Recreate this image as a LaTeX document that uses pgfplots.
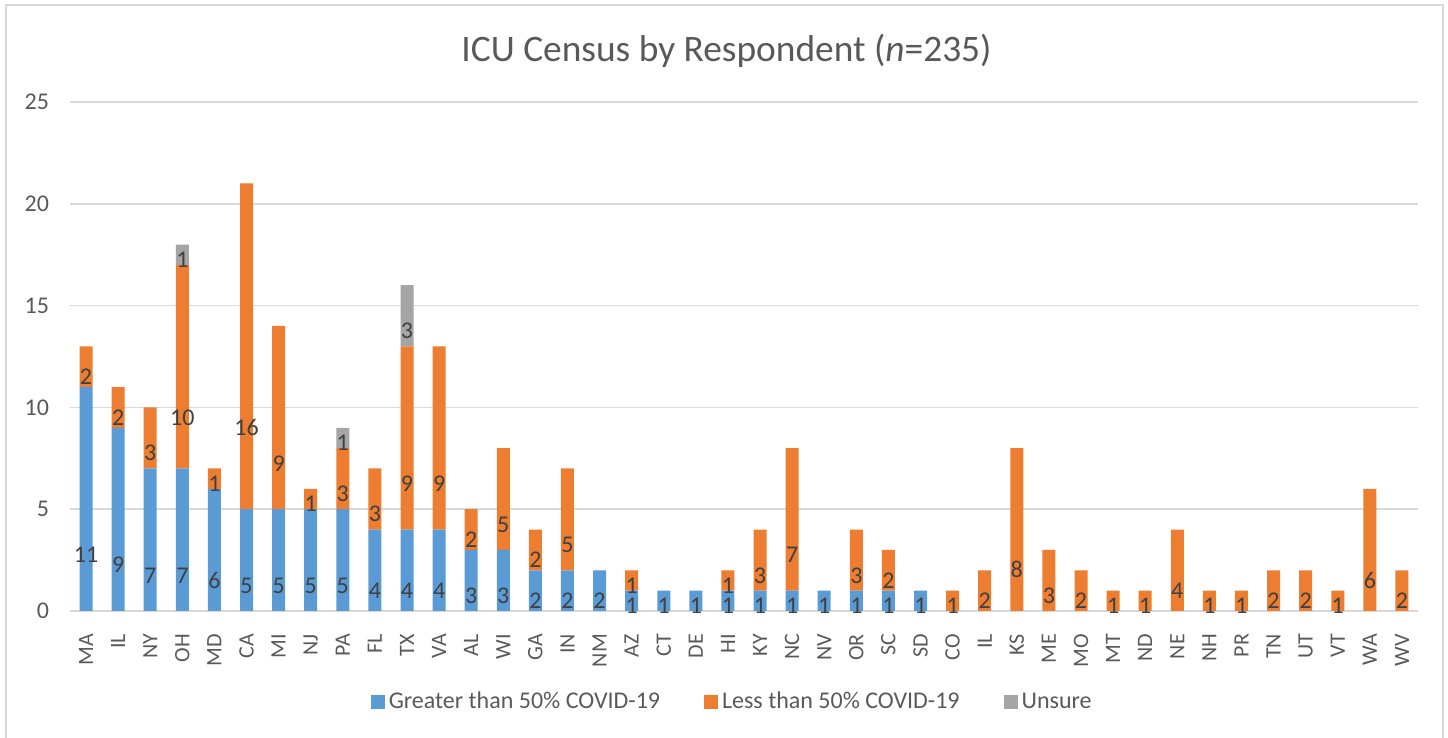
\documentclass[border=0pt]{standalone}
\usepackage{pgfplots}
\pgfplotsset{compat=1.18}
\usepackage{pgfplotstable}
\usepackage{fontspec}
\setmainfont{Carlito}
\definecolor{cblue}{HTML}{5B9BD5}
\definecolor{corange}{HTML}{ED7D31}
\definecolor{cgray}{HTML}{A5A5A5}
\definecolor{gridc}{HTML}{D9D9D9}
\definecolor{txt}{HTML}{595959}
\definecolor{labc}{HTML}{404040}
\pgfplotstableread{
x g l u
0 11 2 0
1 9 2 0
2 7 3 0
3 7 10 1
4 6 1 0
5 5 16 0
6 5 9 0
7 5 1 0
8 5 3 1
9 4 3 0
10 4 9 3
11 4 9 0
12 3 2 0
13 3 5 0
14 2 2 0
15 2 5 0
16 2 0 0
17 1 1 0
18 1 0 0
19 1 0 0
20 1 1 0
21 1 3 0
22 1 7 0
23 1 0 0
24 1 3 0
25 1 2 0
26 1 0 0
27 0 1 0
28 0 2 0
29 0 8 0
30 0 3 0
31 0 2 0
32 0 1 0
33 0 1 0
34 0 4 0
35 0 1 0
36 0 1 0
37 0 2 0
38 0 2 0
39 0 1 0
40 0 6 0
41 0 2 0
}\datatab
\pgfplotsset{sqlegend/.style={legend image code/.code={\fill[##1] (0pt,-3.5pt) rectangle (7pt,3.5pt);}}}
\begin{document}
\begin{tikzpicture}[x=1pt,y=1pt]
\useasboundingbox (0,0) rectangle (724,369);
\draw[gridc, line width=0.75pt] (3,-2) rectangle (721.5,366.5);
\begin{axis}[
  at={(35pt,63.5pt)}, anchor=south west,
  scale only axis, width=674pt, height=254.5pt,
  ybar stacked, bar width=6.5pt,
  xmin=-0.5, xmax=41.5, ymin=0, ymax=25,
  xtick={0,...,41},
  xticklabels={MA,IL,NY,OH,MD,CA,MI,NJ,PA,FL,TX,VA,AL,WI,GA,IN,NM,AZ,CT,DE,HI,KY,NC,NV,OR,SC,SD,CO,IL,KS,ME,MO,MT,ND,NE,NH,PR,TN,UT,VT,WA,WV},
  ytick={0,5,...,25},
  ymajorgrids, major grid style={gridc, line width=0.8pt},
  axis line style={draw=none},
  major tick length=0pt,
  yticklabel style={font=\fontsize{12}{14}\selectfont, text=txt, xshift=-7pt},
  xticklabel style={font=\fontsize{11}{13}\selectfont, text=txt, yshift=-8pt, rotate=90, anchor=east},
  /pgf/number format/assume math mode=true,
  every axis title shift=0pt,
  title={ICU Census by Respondent (\textit{n}=235)},
  title style={at={(0.487,1.101)}, anchor=center, font=\fontsize{18.7}{22}\selectfont, text=txt},
  legend style={at={(0.492,-0.179)}, anchor=center, legend columns=-1, draw=none, fill=none,
    font=\fontsize{12}{14}\selectfont, text=txt,
    /tikz/every even column/.append style={column sep=20pt}},
  point meta=explicit symbolic,
  nodes near coords={\ifnum\pgfplotspointmeta>0\relax\pgfplotspointmeta\fi},
  every node near coord/.append style={anchor=center, inner sep=0.5pt, text height=7.7pt, text depth=0pt, yshift=-\pgfplotspointmeta*2.545pt, font=\fontsize{12}{14}\selectfont, text=labc},
]
\addplot[fill=cblue, draw=none, sqlegend] table[x=x,y=g,meta=g] {\datatab};
\addlegendentry{Greater than 50\% COVID-19}
\addplot[fill=corange, draw=none, sqlegend] table[x=x,y=l,meta=l] {\datatab};
\addlegendentry{Less than 50\% COVID-19}
\addplot[fill=cgray, draw=none, sqlegend] table[x=x,y=u,meta=u] {\datatab};
\addlegendentry{Unsure}
\end{axis}
\end{tikzpicture}
\end{document}
